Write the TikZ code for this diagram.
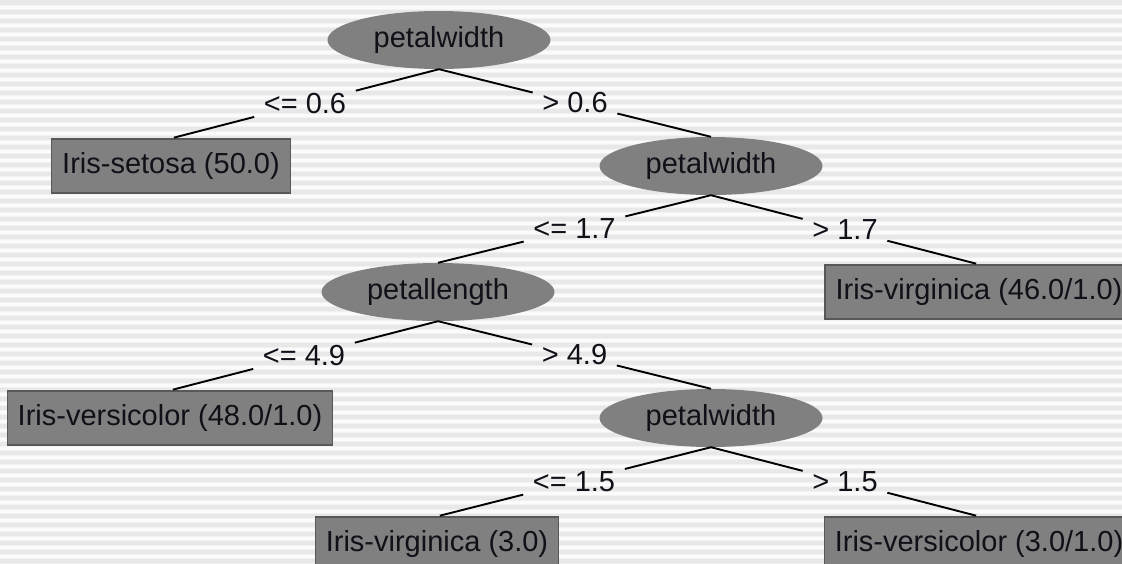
\documentclass[tikz,border=0pt]{standalone}
\usepackage{fontspec}
\setmainfont{Liberation Sans}
\usetikzlibrary{shapes.geometric}
\definecolor{nodegray}{HTML}{808080}
\definecolor{boxedge}{HTML}{585858}
\definecolor{txt}{HTML}{101018}
\definecolor{stripedark}{HTML}{E8E8E8}
\definecolor{stripemid}{HTML}{F2F2F2}
\definecolor{stripelight}{HTML}{FBFBFB}
\begin{document}
\begin{tikzpicture}[x=1pt,y=-1pt,
  treefont/.style={font=\fontsize{29}{34}\selectfont, text=txt},
  split/.style={ellipse, fill=nodegray, minimum height=58pt, inner sep=0pt, treefont},
  leaf/.style={rectangle, fill=nodegray, draw=boxedge, line width=1.2pt,
    minimum height=54pt, inner xsep=10.5pt, inner ysep=0pt, treefont},
  lbl/.style={inner xsep=9.5pt, inner ysep=5pt, treefont},
  edge/.style={line width=1.9pt, black}]
\useasboundingbox (0,0) rectangle (1122,563);
\clip (0,0) rectangle (1122,563);

% pinstriped background
\fill[stripedark] (0,0) rectangle (1122,563);
\foreach \k in {0,...,63} {
  \fill[stripemid] (0,{\k*9+5}) rectangle (1122,{\k*9+10});
  \fill[stripelight] (0,{\k*9+6}) rectangle (1122,{\k*9+9});
}

% decision nodes
\node[split, minimum width=223pt] (root) at (439,40)  {petalwidth};
\node[split, minimum width=223pt] (pw2)  at (711,166) {petalwidth};
\node[split, minimum width=233pt] (pl)   at (438,292) {petallength};
\node[split, minimum width=223pt] (pw3)  at (711,418) {petalwidth};

% leaves
\node[leaf] (setosa) at (171,166) {Iris-setosa (50.0)};
\node[leaf] (v46)    at (979,292) {Iris-virginica (46.0/1.0)};
\node[leaf] (ve48)   at (170,418) {Iris-versicolor (48.0/1.0)};
\node[leaf] (v3)     at (437,544) {Iris-virginica (3.0)};
\node[leaf] (ve31)   at (979,544) {Iris-versicolor (3.0/1.0)};

% edge labels halfway along each branch
\path (root.south) -- (setosa.north) node[lbl, midway] (e1) {<= 0.6};
\path (root.south) -- (pw2.north)    node[lbl, midway] (e2) {> 0.6};
\path (pw2.south)  -- (pl.north)     node[lbl, midway] (e3) {<= 1.7};
\path (pw2.south)  -- (v46.north)    node[lbl, midway] (e4) {> 1.7};
\path (pl.south)   -- (ve48.north)   node[lbl, midway] (e5) {<= 4.9};
\path (pl.south)   -- (pw3.north)    node[lbl, midway] (e6) {> 4.9};
\path (pw3.south)  -- (v3.north)     node[lbl, midway] (e7) {<= 1.5};
\path (pw3.south)  -- (ve31.north)   node[lbl, midway] (e8) {> 1.5};

% branches, broken around their labels
\draw[edge] (root.south) -- (e1);
\draw[edge, shorten >=3pt] (e1) -- (setosa.north);
\draw[edge] (root.south) -- (e2);
\draw[edge] (e2) -- (pw2.north);
\draw[edge] (pw2.south) -- (e3);
\draw[edge] (e3) -- (pl.north);
\draw[edge] (pw2.south) -- (e4);
\draw[edge, shorten >=3pt] (e4) -- (v46.north);
\draw[edge] (pl.south) -- (e5);
\draw[edge, shorten >=3pt] (e5) -- (ve48.north);
\draw[edge] (pl.south) -- (e6);
\draw[edge] (e6) -- (pw3.north);
\draw[edge] (pw3.south) -- (e7);
\draw[edge, shorten >=3pt] (e7) -- (v3.north);
\draw[edge] (pw3.south) -- (e8);
\draw[edge, shorten >=3pt] (e8) -- (ve31.north);
\end{tikzpicture}
\end{document}
